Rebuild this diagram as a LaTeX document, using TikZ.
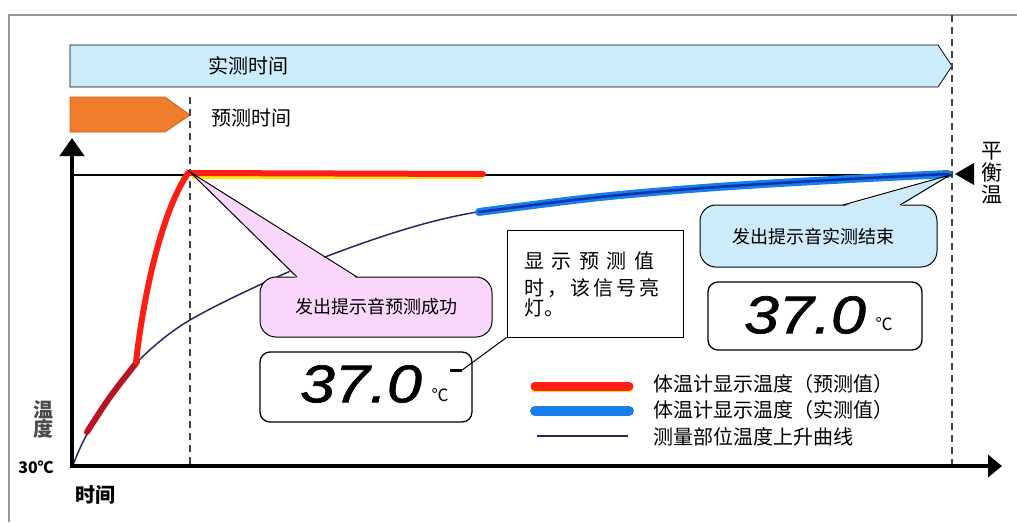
\documentclass[tikz,border=0pt]{standalone}
\usepackage{fontspec}
\setmainfont{Noto Sans CJK SC}
\newfontfamily\lcdfont[FakeBold=1.2]{Liberation Sans}
\usetikzlibrary{arrows.meta}
\definecolor{barblue}{RGB}{204,236,252}
\definecolor{orangebar}{RGB}{240,125,45}
\definecolor{orangeedge}{RGB}{200,95,30}
\definecolor{pinkfill}{RGB}{250,215,250}
\definecolor{callblue}{RGB}{205,235,250}
\definecolor{predred}{RGB}{255,30,20}
\definecolor{darkred}{RGB}{185,20,35}
\definecolor{measblue}{RGB}{25,125,235}
\definecolor{deepblue}{RGB}{10,50,170}
\definecolor{curvecol}{RGB}{40,40,95}
\definecolor{frame}{RGB}{150,150,150}
\newcommand{\fsz}[1]{\fontsize{#1}{#1}\selectfont}
\tikzset{
  axis/.style={line width=4pt,-{Triangle[width=24pt,length=18pt]}},
  xaxis/.style={line width=4pt,-{Triangle[width=22pt,length=14pt]}},
  guide/.style={line width=1.8pt,dash pattern=on 7pt off 5pt,black!75},
  lbl/.style={inner sep=0pt,font=\fsz{20}},
  callbox/.style={draw,line width=1pt,rounded corners=16pt,inner sep=0pt},
  display/.style={draw,line width=1.3pt,rounded corners=10pt,inner sep=0pt},
  digits/.style={inner sep=0pt,font=\lcdfont\itshape\fsz{53},xscale=1.18},
}
\begin{document}
\begin{tikzpicture}[x=1pt,y=-1pt]
\useasboundingbox (0,0) rectangle (1017,522);
% outer frame (top and left)
\draw[frame,line width=1.5pt] (9,522) -- (9,15) -- (1017,15);

% time bars
\draw[fill=barblue,line width=0.8pt] (70,45) -- (938,45) -- (952,66) -- (938,87) -- (70,87) -- cycle;
\node[lbl] (real) at (248,66) {实测时间};
\draw[fill=orangebar,draw=orangeedge,line width=0.8pt] (70,97) -- (165,97) -- (190,115) -- (165,132) -- (70,132) -- cycle;
\node[lbl] (pred) at (251,118) {预测时间};

% guides
\draw[guide] (190,97) -- (190,465);
\draw[guide] (952,15) -- (952,465);
\draw[line width=1.3pt] (72,175) -- (952,175);

% measurement curve
\def\curvepts{(73,465) (85,438) (110,397) (137,362) (190,320) (293,270) (393,233) (477,212) (600,197) (717,187) (850,179) (950,174)}
\draw[curvecol,line width=1.5pt] plot[smooth,tension=0.55] coordinates {\curvepts};
% measured (blue) part
\draw[measblue,line width=8pt,line cap=round] plot[smooth,tension=0.55] coordinates {(479,212) (600,197) (717,187) (850,179) (948,174)};
\draw[deepblue,line width=2.5pt,line cap=round] plot[smooth,tension=0.55] coordinates {(479,212) (600,197) (717,187) (850,179) (948,174)};
% predicted (red) part
\draw[darkred,line width=6pt,line cap=round] plot[smooth,tension=0.55] coordinates {(87,432) (110,397) (137,362)};
\draw[yellow!90!orange,line width=2.5pt] (192,177.5) -- (483,177.5);
\draw[predred,line width=6pt,line cap=round,line join=round] (136,362) .. controls (143,300) and (160,215) .. (188,173) -- (483,174);

% axes
\draw[axis] (72,467) -- (72,138);
\draw[xaxis] (70,466) -- (1002,466);
\node[inner sep=0pt,font=\bfseries\fsz{16}] (t0) at (36,467) {30℃};
\node[inner sep=0pt,font=\bfseries\fsz{20},align=center,text=black!70] (ylab) at (43,420) {温\\[-1pt]度};
\node[inner sep=0pt,font=\bfseries\fsz{20}] (xlab) at (95,495) {时间};

% equilibrium marker
\fill (955,174) -- (974,163) -- (974,185) -- cycle;
\node[inner sep=0pt,font=\fsz{21},align=center] (eq) at (992,173) {平\\[1pt]衡\\[1pt]温};

% pink callout
\node[callbox,fill=pinkfill,minimum width=232pt,minimum height=60pt] (pc) at (376,307) {};
\fill[pinkfill] (190,172) -- (297,278.5) -- (357,278.5) -- cycle;
\draw[line width=1pt,line join=miter] (297,277) -- (190,172) -- (357,277);
\node[inner sep=0pt,font=\fsz{18}] (pctext) at (pc) {发出提示音预测成功};

% blue callout
\node[callbox,fill=callblue,minimum width=237pt,minimum height=62pt] (bc) at (818.5,236) {};
\fill[callblue] (950,175) -- (843,206.5) -- (900,206.5) -- cycle;
\draw[line width=1pt] (843,205) -- (950,175) -- (900,205);
\node[inner sep=0pt,font=\fsz{18}] (bctext) at (813,237) {发出提示音实测结束};

% displays
\node[display,minimum width=212pt,minimum height=70pt] (d1) at (366,387) {};
\node[digits] (d1n) at (361,384) {37.0};
\node[inner sep=0pt,font=\fsz{17}] (d1u) at (440,395) {℃};
\node[fill=black,minimum width=12pt,minimum height=3pt,inner sep=0pt] (ind) at (456,370) {};

\node[display,minimum width=214pt,minimum height=68pt] (d2) at (815,316) {};
\node[digits] (d2n) at (805,315) {37.0};
\node[inner sep=0pt,font=\fsz{17}] (d2u) at (884,324) {℃};

% signal explanation box
\node[draw,line width=1pt,minimum width=176pt,minimum height=107pt,inner sep=0pt] (tb) at (595,283.5) {};
\node[anchor=west,inner sep=0pt,align=left,font=\fsz{20}\linespread{1}\selectfont,text width=160pt] (tbtext) at (524,284.5)
  {\baselineskip=27.5pt 显\hspace{7.5pt}示\hspace{7.5pt}预\hspace{7.5pt}测\hspace{7.5pt}值\par
   时\hspace{3pt}，\hspace{3pt}该\hspace{3pt}信\hspace{3pt}号\hspace{3pt}亮\par
   灯。};
\draw[line width=1pt] (ind.east) -- (tb.south west);

% legend
\draw[yellow!90!orange,line width=3pt,line cap=round] (533,390) -- (631,390);
\draw[predred,line width=9pt,line cap=round] (535,386) -- (629,386);
\draw[measblue,line width=10pt,line cap=round] (535,411) -- (629,411);
\draw[curvecol,line width=1.5pt] (537,436) -- (628,436);
\node[lbl,anchor=west] (lg1) at (653,384) {体温计显示温度（预测值）};
\node[lbl,anchor=west] (lg2) at (653,410) {体温计显示温度（实测值）};
\node[lbl,anchor=west] (lg3) at (653,437) {测量部位温度上升曲线};
\end{tikzpicture}
\end{document}
